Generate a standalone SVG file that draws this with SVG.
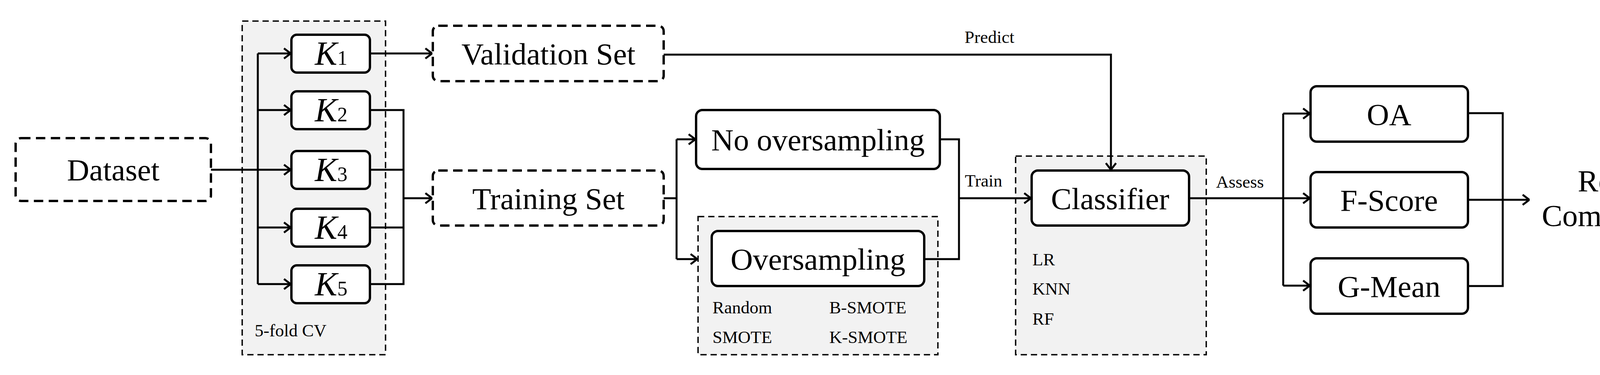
<svg xmlns="http://www.w3.org/2000/svg" width="4383" height="961" viewBox="0 0 4383 961">
<style>
text{font-family:"Liberation Serif","Times New Roman",serif;fill:#000}
.big{font-size:79px;text-anchor:middle}
.sm{font-size:45px}
.box{fill:#fff;stroke:#000;stroke-width:6}
.dbox{fill:#fff;stroke:#000;stroke-width:6;stroke-dasharray:24 14}
.grp{fill:#f2f2f2;stroke:#000;stroke-width:3.5;stroke-dasharray:16 10}
.ln{fill:none;stroke:#000;stroke-width:5}
.k{font-size:86px;font-style:italic}
.sub{font-size:52px;font-style:normal}
</style>
<defs>
<marker id="ar" viewBox="0 0 20 30" refX="19" refY="15" markerWidth="20" markerHeight="30" markerUnits="userSpaceOnUse" orient="auto">
<path d="M2 2 L19 15 L2 28" fill="none" stroke="#000" stroke-width="5"/>
</marker>
</defs>
<g id="cv-group"><rect class="grp" x="620" y="54" width="367" height="855"/><text class="sm" x="652" y="862">5-fold CV</text></g>
<g id="over-group"><rect class="grp" x="1787" y="555" width="614" height="354"/>
<text class="sm" x="1824" y="803">Random</text><text class="sm" x="1824" y="879">SMOTE</text>
<text class="sm" x="2123" y="803">B-SMOTE</text><text class="sm" x="2123" y="879">K-SMOTE</text></g>
<g id="cls-group"><rect class="grp" x="2600" y="400" width="488" height="509"/>
<text class="sm" x="2643" y="680">LR</text><text class="sm" x="2643" y="755">KNN</text><text class="sm" x="2643" y="832">RF</text></g>
<g id="connectors">
<path class="ln" d="M540 435 H744" marker-end="url(#ar)"/>
<path class="ln" d="M660 137 V728"/>
<path class="ln" d="M660 137 H744" marker-end="url(#ar)"/>
<path class="ln" d="M660 282 H744" marker-end="url(#ar)"/>
<path class="ln" d="M660 583 H744" marker-end="url(#ar)"/>
<path class="ln" d="M660 728 H744" marker-end="url(#ar)"/>
<path class="ln" d="M947 137 H1106" marker-end="url(#ar)"/>
<path class="ln" d="M947 282 H1033 V728 H947 M947 435 H1033 M947 583 H1033"/>
<path class="ln" d="M1033 508 H1106" marker-end="url(#ar)"/>
<path class="ln" d="M1699 140 H2844 V435" marker-end="url(#ar)"/>
<path class="ln" d="M1699 508 H1732 M1732 357 V664"/>
<path class="ln" d="M1732 357 H1780" marker-end="url(#ar)"/>
<path class="ln" d="M1732 664 H1785" marker-end="url(#ar)"/>
<path class="ln" d="M2406 357 H2455 V664 H2366"/>
<path class="ln" d="M2455 508 H2639" marker-end="url(#ar)"/>
<path class="ln" d="M3044 508 H3285 M3285 291 V732"/>
<path class="ln" d="M3285 291 H3353" marker-end="url(#ar)"/>
<path class="ln" d="M3285 508 H3353" marker-end="url(#ar)"/>
<path class="ln" d="M3285 732 H3353" marker-end="url(#ar)"/>
<path class="ln" d="M3758 290 H3847 V733 H3758"/>
<path class="ln" d="M3758 512 H3915" marker-end="url(#ar)"/>
<text class="sm" x="2533" y="110" text-anchor="middle">Predict</text>
<text class="sm" x="2470" y="478">Train</text>
<text class="sm" x="3113" y="481">Assess</text>
</g>
<g id="dataset"><rect class="dbox" x="40" y="354" width="500" height="161" rx="14"/><text class="big" x="290" y="462">Dataset</text></g>
<g id="k1"><rect class="box" x="746" y="89" width="201" height="97" rx="14"/><text class="k" x="806" y="166">K<tspan class="sub">1</tspan></text></g>
<g id="k2"><rect class="box" x="746" y="234" width="201" height="97" rx="14"/><text class="k" x="806" y="311">K<tspan class="sub">2</tspan></text></g>
<g id="k3"><rect class="box" x="746" y="387" width="201" height="97" rx="14"/><text class="k" x="806" y="464">K<tspan class="sub">3</tspan></text></g>
<g id="k4"><rect class="box" x="746" y="535" width="201" height="97" rx="14"/><text class="k" x="806" y="612">K<tspan class="sub">4</tspan></text></g>
<g id="k5"><rect class="box" x="746" y="680" width="201" height="97" rx="14"/><text class="k" x="806" y="757">K<tspan class="sub">5</tspan></text></g>
<g id="validation"><rect class="dbox" x="1108" y="66" width="591" height="142" rx="14"/><text class="big" x="1404" y="165">Validation Set</text></g>
<g id="training"><rect class="dbox" x="1108" y="437" width="591" height="141" rx="14"/><text class="big" x="1404" y="536">Training Set</text></g>
<g id="no-over"><rect class="box" x="1782" y="282" width="624" height="151" rx="16"/><text class="big" x="2094" y="385">No oversampling</text></g>
<g id="over"><rect class="box" x="1822" y="592" width="544" height="141" rx="16"/><text class="big" x="2094" y="691">Oversampling</text></g>
<g id="classifier"><rect class="box" x="2641" y="437" width="403" height="141" rx="16"/><text class="big" x="2842" y="536">Classifier</text></g>
<g id="oa"><rect class="box" x="3355" y="221" width="403" height="142" rx="16"/><text class="big" x="3556" y="320">OA</text></g>
<g id="fscore"><rect class="box" x="3355" y="441" width="403" height="142" rx="16"/><text class="big" x="3556" y="540">F-Score</text></g>
<g id="gmean"><rect class="box" x="3355" y="662" width="403" height="142" rx="16"/><text class="big" x="3556" y="761">G-Mean</text></g>
<g id="result"><text class="big" x="4140" y="490">Result</text><text class="big" x="4140" y="579">Comparison</text></g>
</svg>
